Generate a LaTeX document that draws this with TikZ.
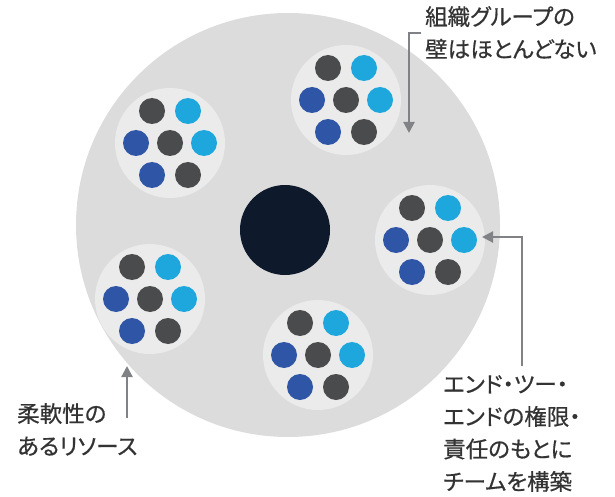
\documentclass[tikz,border=0pt]{standalone}
\usepackage{fontspec}
\newfontfamily\jp[RawFeature=+palt,FakeBold=0.6]{Noto Sans CJK JP}
\usetikzlibrary{arrows.meta}
\definecolor{outerg}{HTML}{DCDCDC}
\definecolor{groupg}{HTML}{EBEBEB}
\definecolor{coreblue}{HTML}{0E1A2B}
\definecolor{dgrey}{HTML}{4A4B4D}
\definecolor{lblue}{HTML}{1EA7DD}
\definecolor{dblue}{HTML}{2F56A6}
\definecolor{arrowg}{HTML}{808285}
\definecolor{txt}{HTML}{333333}
\begin{document}
\begin{tikzpicture}[x=1pt,y=-1pt,
  groupbg/.style={circle,fill=groupg,minimum size=110pt,inner sep=0},
  dotn/.style={circle,minimum size=26pt,inner sep=0},
  label/.style={font=\jp\fontsize{22.5}{32.5}\selectfont,text=txt,align=left,anchor=north west,inner sep=0},
  pointer/.style={draw=arrowg,line width=2.2pt,-{Triangle[length=11pt,width=11pt]}}]
\useasboundingbox (0,0) rectangle (615,497);
\node[circle,fill=outerg,minimum size=424pt,inner sep=0] (outer) at (288,225) {};
\node[circle,fill=coreblue,minimum size=90pt,inner sep=0] (core) at (285,230) {};
\foreach \n/\cx/\cy in {1/170/143, 2/346/100, 3/430/240, 4/150/299, 5/318/355}{
  \node[groupbg] (g\n) at (\cx,\cy) {};
  \foreach \k/\dx/\dy/\c in {1/-18/-32/dgrey, 2/18/-32/lblue, 3/-34/0/dblue, 4/0/0/dgrey, 5/34/0/lblue, 6/-18/32/dblue, 7/18/32/dgrey}
    \node[dotn,fill=\c] (g\n-\k) at (\cx+\dx,\cy+\dy) {};
}
\node[label] (t1) at (425,6) {組織グループの\\壁はほとんどない};
\node[label] (t2) at (443,375) {エンド・ツー・\\エンドの権限・\\責任のもとに\\チームを構築};
\node[label] (t3) at (17,403) {柔軟性の\\あるリソース};
\coordinate (a1s) at (421,33);
\coordinate (a1c) at (409,33);
\coordinate (a1e) at (409,133);
\draw[pointer] (a1s) -- (a1c) -- (a1e);
\coordinate (a2s) at (522,366);
\coordinate (a2e) at (482,237);
\draw[pointer] (a2s) |- (a2e);
\coordinate (a3s) at (127,418);
\coordinate (a3e) at (127,366);
\draw[pointer] (a3s) -- (a3e);
\end{tikzpicture}
\end{document}
